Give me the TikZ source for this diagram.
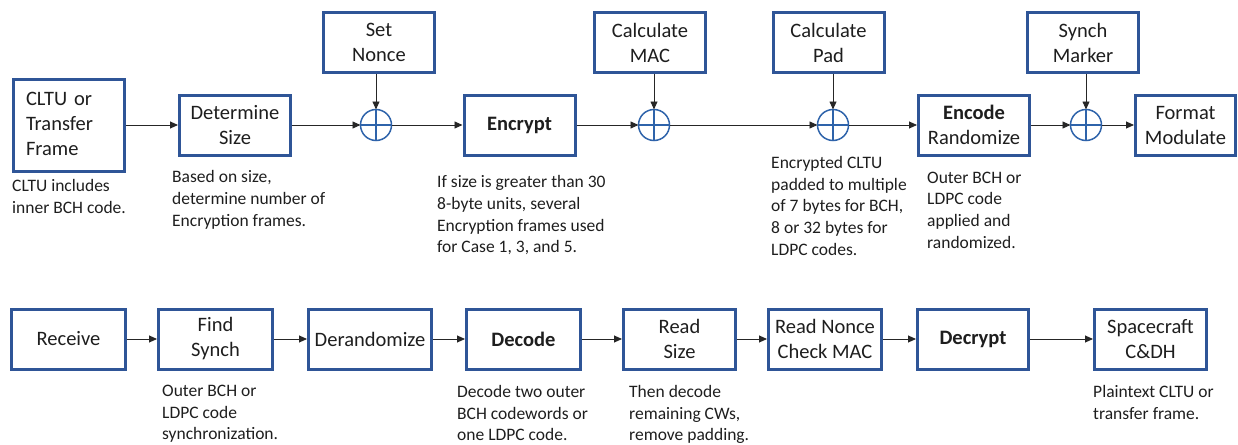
\documentclass[tikz,border=0pt]{standalone}
\usepackage{fontspec}
\setmainfont{Carlito}
\usetikzlibrary{arrows.meta}
\definecolor{boxblue}{RGB}{47,85,151}
\definecolor{circblue}{RGB}{46,99,170}
\definecolor{txt}{RGB}{30,30,30}
\newcommand\bxfont{\fontsize{20.5}{25}\selectfont}
\newcommand\ntfont{\fontsize{17.5}{21.7}\selectfont}
\begin{document}
\begin{tikzpicture}[x=1pt,y=-1pt,
  box/.style={draw=boxblue, line width=3pt, fill=white, minimum width=111pt, minimum height=60pt,
    inner sep=0pt, align=center, font=\bxfont, text=txt},
  note/.style={anchor=north west, inner sep=0pt, align=left, font=\ntfont, text=txt},
  sum/.style={circle, draw=circblue, line width=1.5pt, minimum size=31pt, inner sep=0pt, outer sep=0pt, fill=white},
  arr/.style={draw=black!85, line width=0.9pt, -{Triangle[length=8pt,width=7pt]}}]
\useasboundingbox (0,0) rectangle (1238,444);
% ---------- top row ----------
\node[box, minimum height=92pt, text width=86pt, inner xsep=12.5pt, align=left] (cltu) at (69,125)
  {\raisebox{3pt}{\begin{tabular}{@{}l@{}}CLTU or\\Transfer\\Frame\end{tabular}}};
\node[box] (size) at (235,125) {Determine\\Size};
\node[box] (nonce) at (379,42.5) {Set\\Nonce};
\node[sum] (c1) at (376,125) {};
\node[box] (encrypt) at (519.5,125) {\textbf{Encrypt}};
\node[box] (mac) at (650,42.5) {Calculate\\MAC};
\node[sum] (c2) at (654,125) {};
\node[box] (pad) at (828.5,42.5) {Calculate\\Pad};
\node[sum] (c3) at (833,125) {};
\node[box] (encode) at (974,125) {\textbf{Encode}\\Randomize};
\node[box] (synch) at (1083,42.5) {Synch\\Marker};
\node[sum] (c4) at (1086,125) {};
\node[box, minimum width=100pt] (format) at (1185.5,125) {Format\\Modulate};
\foreach \c in {c1,c2,c3,c4}{
  \draw[circblue, line width=1.5pt] (\c.north) -- (\c.south) (\c.west) -- (\c.east);
}
\draw[arr] (cltu) -- (size);
\draw[arr] (size) -- (c1);
\draw[arr] (c1) -- (encrypt);
\draw[arr] (encrypt) -- (c2);
\draw[arr] (c2) -- (c3);
\draw[arr] (c3) -- (encode);
\draw[arr] (encode) -- (c4);
\draw[arr] (c4) -- (format);
\draw[arr] (nonce.south -| c1) -- (c1);
\draw[arr] (mac.south -| c2) -- (c2);
\draw[arr] (pad.south -| c3) -- (c3);
\draw[arr] (synch.south -| c4) -- (c4);
\node[note] (n1) at (12,179.5) {CLTU includes\\inner BCH code.};
\node[note] (n2) at (172,170.5) {Based on size,\\determine number of\\Encryption frames.};
\node[note] (n3) at (437,175.5) {If size is greater than 30\\8-byte units, several\\Encryption frames used\\for Case 1, 3, and 5.};
\node[note] (n4) at (771,156) {Encrypted CLTU\\padded to multiple\\of 7 bytes for BCH,\\8 or 32 bytes for\\LDPC codes.};
\node[note] (n5) at (927,171.5) {Outer BCH or\\LDPC code\\applied and\\randomized.};
% ---------- bottom row ----------
\node[box, minimum width=114pt] (receive) at (68.5,339) {Receive};
\node[box, minimum width=114pt] (find) at (215.5,339) {Find\\Synch};
\node[box, minimum width=123pt] (derand) at (370,339) {Derandomize};
\node[box, minimum width=114pt] (decode) at (523.5,339) {\textbf{Decode}};
\node[box, minimum width=112pt] (rsize) at (679.5,339) {Read\\Size};
\node[box, minimum width=113pt] (rnonce) at (825,339) {Read Nonce\\Check MAC};
\node[box, minimum width=111pt] (decrypt) at (973,339) {\textbf{Decrypt}};
\node[box, minimum width=112pt] (craft) at (1150.5,339) {Spacecraft\\C\&DH};
\draw[arr] (receive) -- (find);
\draw[arr] (find) -- (derand);
\draw[arr] (derand) -- (decode);
\draw[arr] (decode) -- (rsize);
\draw[arr] (rsize) -- (rnonce);
\draw[arr] (rnonce) -- (decrypt);
\draw[arr] (decrypt) -- (craft);
\node[note] (b1) at (162,385) {Outer BCH or\\LDPC code\\synchronization.};
\node[note] (b2) at (457,385) {Decode two outer\\BCH codewords or\\one LDPC code.};
\node[note] (b3) at (629,385) {Then decode\\remaining CWs,\\remove padding.};
\node[note] (b4) at (1093,385) {Plaintext CLTU or\\transfer frame.};
\end{tikzpicture}
\end{document}
